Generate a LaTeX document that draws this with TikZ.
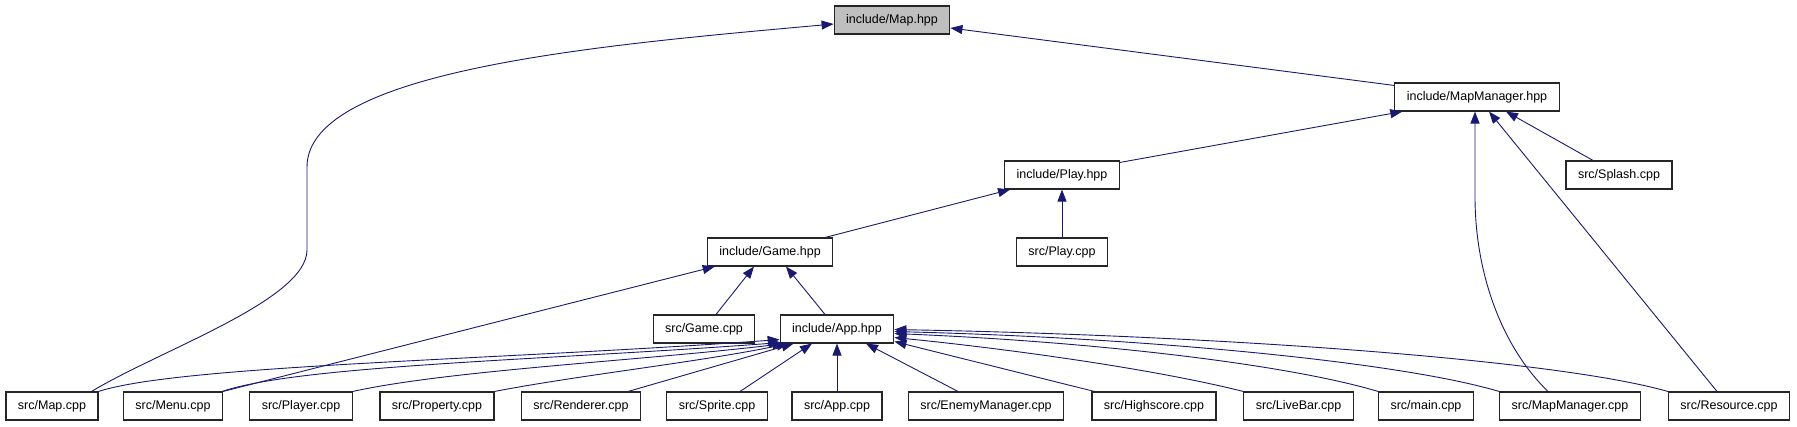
\documentclass[tikz,border=0pt]{standalone}
\usepackage{fontspec}
\setmainfont{Liberation Sans}
\usepackage{tikz}
\usetikzlibrary{arrows.meta}
\usepackage{xcolor}
\definecolor{depblue}{HTML}{191970}
\definecolor{curgray}{HTML}{BFBFBF}

\begin{document}
\begin{tikzpicture}[x=1pt,y=-1pt,
    filebox/.style={draw=black!85,line width=1.1pt,fill=white,minimum height=28pt,
      inner xsep=12pt,inner ysep=0pt,font=\fontsize{12.5}{15}\selectfont},
    curfile/.style={filebox,fill=curgray},
    dep/.style={depblue,line width=0.9pt,-{Triangle[length=12pt,width=9pt]}}]
  \useasboundingbox (0,0) rectangle (1797,427);
  % Headers
  \node[curfile] (maphpp) at (892,20) {include/Map.hpp};
  \node[filebox] (mapmgrhpp) at (1477,97) {include/MapManager.hpp};
  \node[filebox] (playhpp) at (1062,175) {include/Play.hpp};
  \node[filebox] (splashcpp) at (1619,175) {src/Splash.cpp};
  \node[filebox] (gamehpp) at (770,252) {include/Game.hpp};
  \node[filebox] (playcpp) at (1062,252) {src/Play.cpp};
  \node[filebox] (gamecpp) at (704,329) {src/Game.cpp};
  \node[filebox] (apphpp) at (837,329) {include/App.hpp};
  % Sources
  \node[filebox] (mapcpp) at (52,406) {src/Map.cpp};
  \node[filebox] (menucpp) at (173,406) {src/Menu.cpp};
  \node[filebox] (playercpp) at (301,406) {src/Player.cpp};
  \node[filebox] (propertycpp) at (437,406) {src/Property.cpp};
  \node[filebox] (renderercpp) at (581,406) {src/Renderer.cpp};
  \node[filebox] (spritecpp) at (717,406) {src/Sprite.cpp};
  \node[filebox] (appcpp) at (837,406) {src/App.cpp};
  \node[filebox] (enemycpp) at (986,406) {src/EnemyManager.cpp};
  \node[filebox] (highscorecpp) at (1154,406) {src/Highscore.cpp};
  \node[filebox] (livebarcpp) at (1298.5,406) {src/LiveBar.cpp};
  \node[filebox] (maincpp) at (1426,406) {src/main.cpp};
  \node[filebox] (mapmgrcpp) at (1570,406) {src/MapManager.cpp};
  \node[filebox] (resourcecpp) at (1729,406) {src/Resource.cpp};
  % Includes of Map.hpp and MapManager.hpp
  \draw[dep] ([xshift=-7pt]mapcpp.north east)
    .. controls (160,350) and (307,300) .. (307,250)
    -- (307,167)
    .. controls (307,70) and (600,45) .. ([yshift=-4pt]maphpp.west);
  \draw[dep] ([yshift=-3pt]mapmgrhpp.north west) -- ([yshift=-8pt]maphpp.east);
  \draw[dep] ([yshift=-2pt]playhpp.north east) -- ([xshift=8pt]mapmgrhpp.south west);
  \draw[dep] ([xshift=-22pt]mapmgrcpp.north)
    .. controls (1505,350) and (1476,280) .. (1475,200)
    -- ([xshift=-2pt]mapmgrhpp.south);
  \draw[dep] ([xshift=-12pt]resourcecpp.north) -- ([xshift=12pt]mapmgrhpp.south);
  \draw[dep] ([xshift=-26pt]splashcpp.north) -- ([xshift=29pt]mapmgrhpp.south);
  % Includes of Play.hpp and Game.hpp
  \draw[dep] ([xshift=-8pt]gamehpp.north east) -- ([xshift=6pt]playhpp.south west);
  \draw[dep] (playcpp) -- (playhpp);
  \draw[dep] (menucpp.north east) -- ([xshift=8pt]gamehpp.south west);
  \draw[dep] ([xshift=12pt]gamecpp.north) -- ([xshift=-16pt]gamehpp.south);
  \draw[dep] ([xshift=-12pt]apphpp.north) -- ([xshift=16pt]gamehpp.south);
  % Includes of App.hpp
  \draw[dep] (mapcpp.north east)
    .. controls (180,365) and (500,360) .. ([yshift=4pt]apphpp.south west);
  \draw[dep] ([xshift=-1pt]menucpp.north east)
    .. controls (300,365) and (550,360) .. ([xshift=1pt,yshift=1pt]apphpp.south west);
  \draw[dep] (playercpp.north east)
    .. controls (450,370) and (650,360) .. ([xshift=5pt]apphpp.south west);
  \draw[dep] (propertycpp.north east)
    .. controls (580,375) and (700,362) .. ([xshift=9pt]apphpp.south west);
  \draw[dep] ([xshift=-13pt]renderercpp.north east) -- ([xshift=14pt]apphpp.south west);
  \draw[dep] ([xshift=23pt]spritecpp.north) -- ([xshift=-25pt]apphpp.south);
  \draw[dep] (appcpp) -- (apphpp);
  \draw[dep] ([xshift=-28pt]enemycpp.north) -- ([xshift=29pt]apphpp.south);
  \draw[dep] ([xshift=3pt]highscorecpp.north west) -- ([yshift=2pt]apphpp.south east);
  \draw[dep] (livebarcpp.north west)
    .. controls (1150,368) and (1000,348) .. ([yshift=6pt]apphpp.south east);
  \draw[dep] (maincpp.north west)
    .. controls (1290,365) and (1100,342) .. ([yshift=10pt]apphpp.south east);
  \draw[dep] (mapmgrcpp.north west)
    .. controls (1400,362) and (1150,338) .. ([yshift=12pt]apphpp.south east);
  \draw[dep] (resourcecpp.north west)
    .. controls (1550,358) and (1200,335) .. ([yshift=14pt]apphpp.south east);
\end{tikzpicture}
\end{document}
